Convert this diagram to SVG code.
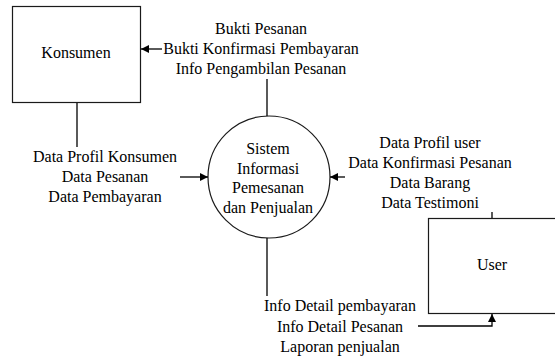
<svg xmlns="http://www.w3.org/2000/svg" width="555" height="356" viewBox="0 0 555 356">
  <style>
    .lbl { font-family: "Liberation Serif", "Times New Roman", serif; font-size: 16px; fill: #000; text-anchor: middle; }
    .shape { fill: #fff; stroke: #1a1a1a; stroke-width: 1.2; }
    .flow { fill: none; stroke: #000; stroke-width: 1.3; }
  </style>
  <defs>
    <marker id="arrow" viewBox="0 0 10 10" refX="10" refY="5" markerWidth="8" markerHeight="8" markerUnits="userSpaceOnUse" orient="auto">
      <path d="M0,0 L10,5 L0,10 Z" fill="#000"/>
    </marker>
  </defs>
  <rect width="555" height="356" fill="#fff"/>

  <!-- external entity: Konsumen -->
  <g id="konsumen">
    <rect class="shape" x="12.5" y="6.5" width="128" height="96"/>
    <text class="lbl" x="76" y="58">Konsumen</text>
  </g>

  <!-- process -->
  <g id="sistem">
    <circle class="shape" cx="269" cy="177" r="61"/>
    <text class="lbl" x="268" y="154">Sistem</text>
    <text class="lbl" x="268" y="174">Informasi</text>
    <text class="lbl" x="268" y="193">Pemesanan</text>
    <text class="lbl" x="268" y="213">dan Penjualan</text>
  </g>

  <!-- external entity: User -->
  <g id="user">
    <rect class="shape" x="428.5" y="218.5" width="140" height="95"/>
    <text class="lbl" x="492" y="270">User</text>
  </g>

  <!-- data flows -->
  <g id="connectors">
    <path class="flow" d="M267,79 V116"/>
    <path class="flow" d="M162,49 H141" marker-end="url(#arrow)"/>
    <path class="flow" d="M77,103 V147"/>
    <path class="flow" d="M180,177 H208" marker-end="url(#arrow)"/>
    <path class="flow" d="M345,177 H330" marker-end="url(#arrow)"/>
    <path class="flow" d="M492,212 V218"/>
    <path class="flow" d="M267,238 V296"/>
    <path class="flow" d="M418,326 H492 V314" marker-end="url(#arrow)"/>
  </g>

  <!-- flow labels -->
  <g id="labels">
    <text class="lbl" x="261" y="34">Bukti Pesanan</text>
    <text class="lbl" x="261" y="54">Bukti Konfirmasi Pembayaran</text>
    <text class="lbl" x="261" y="74">Info Pengambilan Pesanan</text>

    <text class="lbl" x="105" y="162">Data Profil Konsumen</text>
    <text class="lbl" x="105" y="182">Data Pesanan</text>
    <text class="lbl" x="105" y="202">Data Pembayaran</text>

    <text class="lbl" x="430" y="148">Data Profil user</text>
    <text class="lbl" x="430" y="168">Data Konfirmasi Pesanan</text>
    <text class="lbl" x="430" y="188">Data Barang</text>
    <text class="lbl" x="430" y="208">Data Testimoni</text>

    <text class="lbl" x="340" y="311">Info Detail pembayaran</text>
    <text class="lbl" x="340" y="332">Info Detail Pesanan</text>
    <text class="lbl" x="340" y="352">Laporan penjualan</text>
  </g>
</svg>
